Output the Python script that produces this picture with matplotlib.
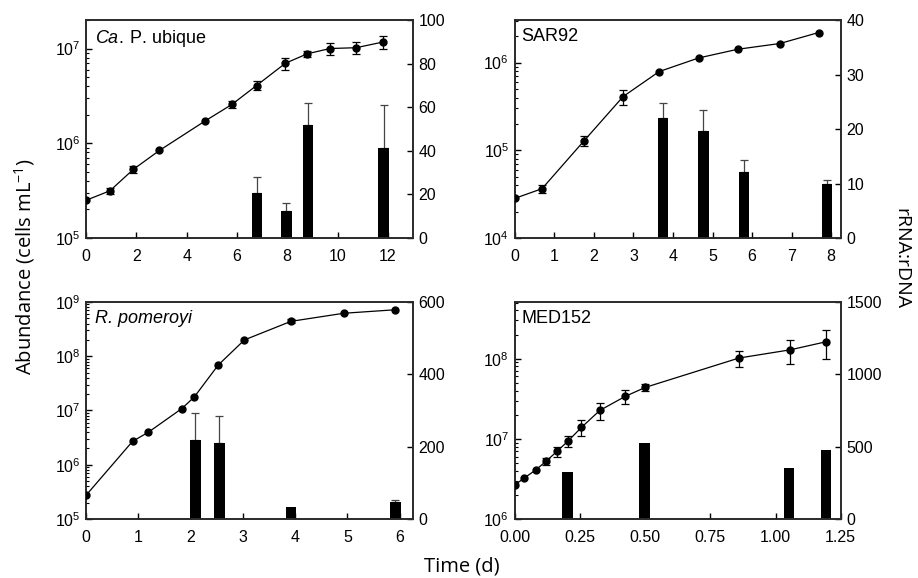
import numpy as np
import matplotlib
matplotlib.use("Agg")
import matplotlib.pyplot as plt
from matplotlib.ticker import NullFormatter, FixedLocator

plt.rcParams['font.family'] = ['Liberation Sans', 'DejaVu Sans']
plt.rcParams['mathtext.fontset'] = 'custom'
plt.rcParams['mathtext.rm'] = 'Liberation Sans'
plt.rcParams['mathtext.it'] = 'Liberation Sans:italic'
plt.rcParams['mathtext.default'] = 'regular'

# ---- Panel 1: Ca. P. ubique ----
t1 = [0, 0.95, 1.88, 2.92, 4.75, 5.8, 6.78, 7.93, 8.8, 9.7, 10.74, 11.8]
a1 = [2.5e5, 3.15e5, 5.3e5, 8.4e5, 1.73e6, 2.57e6, 4.07e6, 7.0e6, 8.8e6, 1.0e7, 1.02e7, 1.17e7]
e1 = [0, 2.2e4, 4.3e4, 0, 0, 2.3e5, 4.3e5, 1.0e6, 6e5, 1.4e6, 1.4e6, 1.8e6]
bt1 = [6.8, 7.97, 8.83, 11.83]
b1 = [20.6, 12.5, 51.8, 41.1]
be1 = [7.5, 3.4, 10.2, 19.9]

# ---- Panel 2: SAR92 ----
t2 = [0, 0.69, 1.75, 2.74, 3.65, 4.65, 5.64, 6.7, 7.68]
a2 = [2.83e4, 3.65e4, 1.28e5, 4.1e5, 7.9e5, 1.13e6, 1.42e6, 1.65e6, 2.2e6]
e2 = [0, 3.5e3, 1.6e4, 8e4, 0, 0, 0, 0, 0]
bt2 = [3.74, 4.77, 5.8, 7.9]
b2 = [22.1, 19.6, 12.2, 9.9]
be2 = [2.6, 3.9, 2.1, 0.7]

# ---- Panel 3: R. pomeroyi ----
t3 = [0, 0.89, 1.19, 1.83, 2.07, 2.53, 3.03, 3.92, 4.93, 5.92]
a3 = [2.73e5, 2.7e6, 3.96e6, 1.08e7, 1.77e7, 6.9e7, 2.0e8, 4.4e8, 6.2e8, 7.2e8]
e3 = [0, 0, 0, 0, 0, 0, 0, 3.7e7, 0, 0]
bt3 = [2.09, 2.55, 3.92, 5.92]
b3 = [219, 210, 33, 46]
be3 = [74, 74, 0, 6]

# ---- Panel 4: MED152 ----
t4 = [0, 0.037, 0.08, 0.121, 0.162, 0.204, 0.256, 0.326, 0.424, 0.501, 0.86, 1.056, 1.195]
a4 = [2.65e6, 3.25e6, 4.08e6, 5.28e6, 6.98e6, 9.36e6, 1.39e7, 2.26e7, 3.39e7, 4.39e7, 1.02e8, 1.29e8, 1.63e8]
e4 = [0, 0, 0, 0.5e6, 1.0e6, 1.45e6, 3.1e6, 5.2e6, 7e6, 4.5e6, 2.4e7, 4.2e7, 6.3e7]
bt4 = [0.203, 0.498, 1.052, 1.194]
b4 = [323, 528, 350, 479]
be4 = [0, 0, 0, 0]

panels = [
    dict(t=t1, a=a1, e=e1, bt=bt1, b=b1, be=be1, xlim=(0, 13), xticks=[0, 2, 4, 6, 8, 10, 12],
         xtl=None, ylim=(1e5, 2e7), rlim=(0, 100), rticks=[0, 20, 40, 60, 80, 100], bw=0.41,
         pos=[0.0937, 0.5882, 0.3562, 0.3772]),
    dict(t=t2, a=a2, e=e2, bt=bt2, b=b2, be=be2, xlim=(0, 8.24), xticks=[0, 1, 2, 3, 4, 5, 6, 7, 8],
         xtl=None, ylim=(1e4, 3.06e6), rlim=(0, 40), rticks=[0, 10, 20, 30, 40], bw=0.26,
         pos=[0.5607, 0.5882, 0.3551, 0.3772]),
    dict(t=t3, a=a3, e=e3, bt=bt3, b=b3, be=be3, xlim=(0, 6.255), xticks=[0, 1, 2, 3, 4, 5, 6],
         xtl=None, ylim=(1e5, 1e9), rlim=(0, 600), rticks=[0, 200, 400, 600], bw=0.2,
         pos=[0.0937, 0.1021, 0.3562, 0.3754]),
    dict(t=t4, a=a4, e=e4, bt=bt4, b=b4, be=be4, xlim=(0, 1.25), xticks=[0, 0.25, 0.5, 0.75, 1.0, 1.25],
         xtl=['0.00', '0.25', '0.50', '0.75', '1.00', '1.25'], ylim=(1e6, 5.1e8), rlim=(0, 1500),
         rticks=[0, 500, 1000, 1500], bw=0.04, pos=[0.5607, 0.1021, 0.3551, 0.3754]),
]

fig = plt.figure(figsize=(9.18, 5.78), dpi=100)
spine_col = '#2a2a2a'
tick_fs = 11.5
axes = []

for p in panels:
    ax = fig.add_axes(p['pos'])
    axr = ax.twinx()
    ax.set_zorder(axr.get_zorder() + 1)
    ax.patch.set_visible(False)
    axes.append(ax)

    # bars on the right axis
    be = np.array(p['be'], dtype=float)
    axr.bar(p['bt'], p['b'], width=p['bw'], color='black', zorder=2)
    mask = be > 0
    if mask.any():
        bt = np.array(p['bt'])[mask]
        bv = np.array(p['b'])[mask]
        axr.errorbar(bt, bv, yerr=[np.zeros(mask.sum()), be[mask]], fmt='none',
                     ecolor='#444444', elinewidth=0.9, capsize=3, capthick=0.9, zorder=1)
    axr.set_ylim(*p['rlim'])
    axr.yaxis.set_major_locator(FixedLocator(p['rticks']))
    axr.tick_params(axis='y', direction='in', length=4, width=1, labelsize=tick_fs, colors='black', pad=4)

    # abundance line on the left axis
    t = np.array(p['t'])
    a = np.array(p['a'])
    e = np.array(p['e'])
    ax.plot(t, a, '-', color='black', lw=0.9, marker='o', ms=5, zorder=3)
    m = e > 0
    if m.any():
        ax.errorbar(t[m], a[m], yerr=e[m], fmt='none', ecolor='black', elinewidth=0.9,
                    capsize=3, capthick=0.9, zorder=3)
    ax.set_yscale('log')
    ax.set_ylim(*p['ylim'])
    ax.set_xlim(*p['xlim'])
    ax.set_xticks(p['xticks'])
    if p['xtl'] is not None:
        ax.set_xticklabels(p['xtl'])
    ax.yaxis.set_minor_formatter(NullFormatter())
    ax.tick_params(which='major', direction='in', length=4, width=1, labelsize=tick_fs, pad=4,
                   top=False, right=False)
    ax.tick_params(which='minor', direction='in', length=2.5, width=0.8, top=False, right=False)
    ax.tick_params(axis='x', pad=8)

    for a_ in (ax, axr):
        for s in a_.spines.values():
            s.set_color(spine_col)
            s.set_linewidth(1.2)

tfs = 13
axes[0].text(0.027, 0.965, r'$\mathit{Ca.}\:$P. ubique', transform=axes[0].transAxes,
             ha='left', va='top', fontsize=tfs)
axes[1].text(0.02, 0.965, 'SAR92', transform=axes[1].transAxes, ha='left', va='top', fontsize=tfs)
axes[2].text(0.027, 0.965, 'R. pomeroyi', transform=axes[2].transAxes, ha='left', va='top',
             fontsize=tfs, style='italic')
axes[3].text(0.02, 0.965, 'MED152', transform=axes[3].transAxes, ha='left', va='top', fontsize=tfs)

lab_font = ['Open Sans', 'DejaVu Sans']
fig.text(0.027, 0.538, 'Abundance (cells mL$^{-1}$)', rotation=90, ha='center', va='center',
         fontsize=14.5, family=lab_font)
fig.text(0.982, 0.552, 'rRNA:rDNA', rotation=-90, ha='center', va='center',
         fontsize=14, family=lab_font)
fig.text(0.503, 0.02, 'Time (d)', ha='center', va='center', fontsize=14.5, family=lab_font)

fig.savefig('out.png', dpi=100)
